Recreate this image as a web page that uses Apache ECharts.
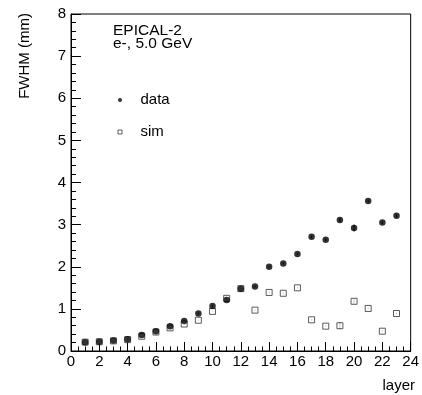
<!DOCTYPE html>
<html>
<head>
<meta charset="utf-8">
<script src="https://cdn.jsdelivr.net/npm/echarts@6/dist/echarts.min.js"></script>
<style>
html,body{margin:0;padding:0;background:#fff;}
#chart{width:422px;height:395px;}
</style>
</head>
<body>
<div id="chart"></div>
<script>
const layers = [1,2,3,4,5,6,7,8,9,10,11,12,13,14,15,16,17,18,19,20,21,22,23];
const dataVals = [0.21,0.22,0.25,0.28,0.38,0.47,0.59,0.71,0.89,1.07,1.21,1.48,1.53,2.00,2.08,2.30,2.71,2.64,3.11,2.92,3.56,3.05,3.21];
const dataErr  = [0.01,0.01,0.01,0.01,0.01,0.01,0.01,0.01,0.02,0.02,0.02,0.03,0.02,0.02,0.02,0.02,0.03,0.03,0.04,0.08,0.03,0.03,0.03];
const simVals  = [0.21,0.22,0.24,0.27,0.35,0.45,0.55,0.64,0.73,0.94,1.25,1.48,0.97,1.39,1.37,1.50,0.74,0.59,0.60,1.18,1.01,0.47,0.89];
const simErr   = [0.01,0.01,0.01,0.01,0.01,0.01,0.01,0.01,0.01,0.01,0.02,0.02,0.02,0.02,0.02,0.02,0.02,0.02,0.08,0.06,0.02,0.02,0.02];
const xTicks = [0,2,4,6,8,10,12,14,16,18,20,22,24];
const yTicks = [0,1,2,3,4,5,6,7,8];

const FONT = '"Liberation Sans", Arial, Helvetica, sans-serif';
const chart = echarts.init(document.getElementById('chart'), null, {renderer:'canvas'});

function errSeries(vals, errs){
  return {
    type:'custom',
    z:1,
    silent:true,
    data: layers.map((l,i)=>[l, vals[i], errs[i]]),
    renderItem: function(params, api){
      const x = api.value(0), v = api.value(1), e = api.value(2);
      const p1 = api.coord([x, v - e]);
      const p2 = api.coord([x, v + e]);
      return {type:'line', shape:{x1:p1[0],y1:p1[1],x2:p2[0],y2:p2[1]}, style:{stroke:'#000', lineWidth:1}};
    }
  };
}

chart.setOption({
  animation:false,
  backgroundColor:'#fff',
  textStyle:{fontFamily:FONT},
  grid:{left:71, right:7, top:14, bottom:44, show:true, borderColor:'#000', borderWidth:1, backgroundColor:'transparent'},
  xAxis:{
    type:'value', min:xTicks[0], max:xTicks[xTicks.length-1], interval:2,
    axisLine:{show:true, lineStyle:{color:'#000', width:1}},
    axisTick:{show:true, inside:true, length:9, lineStyle:{color:'#000'}},
    minorTick:{show:true, splitNumber:4, length:4.5, lineStyle:{color:'#000'}},
    splitLine:{show:false},
    axisLabel:{color:'#000', fontSize:15, fontFamily:FONT, margin:3, showMinLabel:true, showMaxLabel:true}
  },
  yAxis:{
    type:'value', min:yTicks[0], max:yTicks[yTicks.length-1], interval:1,
    axisLine:{show:true, lineStyle:{color:'#000', width:1}},
    axisTick:{show:true, inside:true, length:10, lineStyle:{color:'#000'}},
    minorTick:{show:true, splitNumber:5, length:5, lineStyle:{color:'#000'}},
    splitLine:{show:false},
    axisLabel:{color:'#000', fontSize:15, fontFamily:FONT, margin:5}
  },
  legend:{
    orient:'vertical', left:112.5, top:86, itemWidth:4, itemHeight:4, itemGap:14,
    textStyle:{color:'#000', fontSize:15, fontFamily:FONT, lineHeight:18, padding:[0,0,0,13.5]},
    data:[
      {name:'data', icon:'circle', itemStyle:{color:'#000'}},
      {name:'sim', icon:'rect', itemStyle:{color:'#fff', borderColor:'#333', borderWidth:1}}
    ]
  },
  graphic:[
    {type:'text', x:113, y:30.5, style:{text:'EPICAL-2', fill:'#000', font:'15.5px '+FONT, textVerticalAlign:'middle'}},
    {type:'text', x:113, y:43.5, style:{text:'e-, 5.0 GeV', fill:'#000', font:'15.5px '+FONT, textVerticalAlign:'middle'}},
    {type:'text', x:25, y:13, rotation:Math.PI/2, style:{text:'FWHM (mm)', fill:'#000', font:'15px '+FONT, textAlign:'right', textVerticalAlign:'middle'}},
    {type:'text', x:415, y:386, style:{text:'layer', fill:'#000', font:'15px '+FONT, textAlign:'right', textVerticalAlign:'middle'}}
  ],
  series:[
    errSeries(dataVals, dataErr),
    errSeries(simVals, simErr),
    {
      name:'sim', type:'scatter', z:3,
      symbol:'rect', symbolSize:6,
      itemStyle:{color:'#fff', borderColor:'#333', borderWidth:1},
      data: layers.map((l,i)=>[l, simVals[i]])
    },
    {
      name:'data', type:'scatter', z:4,
      symbol:'circle', symbolSize:6.5,
      itemStyle:{color:'#000'},
      data: layers.map((l,i)=>[l, dataVals[i]])
    }
  ]
});
</script>
</body>
</html>
